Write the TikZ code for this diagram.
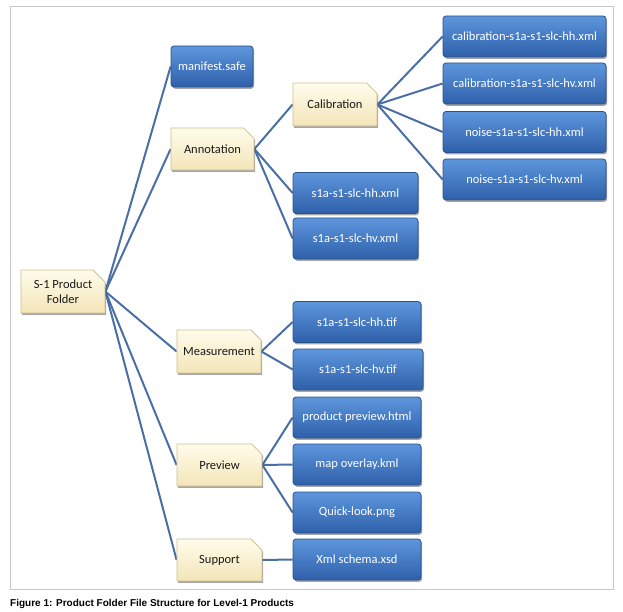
\documentclass[tikz,border=0pt]{standalone}
\usepackage{fontspec}
\setmainfont{Carlito}
\newfontfamily\capfont{Liberation Sans}
\usetikzlibrary{shapes.misc,shadows,backgrounds}
\definecolor{linkc}{HTML}{4A6FA5}
\definecolor{bluetop}{HTML}{5E96DC}
\definecolor{bluebot}{HTML}{2E60AA}
\definecolor{blueborder}{HTML}{2A528E}
\definecolor{creamtop}{HTML}{FFFCEB}
\definecolor{creambot}{HTML}{F3E5B8}
\definecolor{creamborder}{HTML}{CDBE8E}
\definecolor{framec}{HTML}{C8C8C8}
\tikzset{
  filebox/.style={rectangle, rounded corners=3pt, draw=blueborder, line width=0.8pt,
    top color=bluetop, bottom color=bluebot, text=white, minimum height=41pt,
    inner sep=0pt, font=\fontsize{12.5}{14}\selectfont,
    drop shadow={shadow xshift=1.2pt, shadow yshift=-1.8pt, opacity=0.35, fill=black}},
  folderbox/.style={chamfered rectangle, chamfered rectangle corners=north east,
    chamfered rectangle xsep=6pt, chamfered rectangle ysep=6pt,
    draw=creamborder, line width=0.8pt, top color=creamtop, bottom color=creambot,
    text=black!90, minimum height=42pt, inner sep=0pt, align=center,
    font=\fontsize{12.5}{15}\selectfont,
    drop shadow={shadow xshift=1.2pt, shadow yshift=-1.8pt, opacity=0.35, fill=black}},
  link/.style={draw=linkc, line width=2pt}
}
\begin{document}
\begin{tikzpicture}[x=1pt,y=-1pt]
\useasboundingbox (0,0) rectangle (623,612);
\draw[framec, line width=1pt] (10,7) rectangle (613,589);

\node[folderbox, minimum width=84pt, minimum height=43pt] (root) at (63,291.5) {S-1 Product\\Folder};
\node[filebox, minimum width=82pt] (manifest) at (212,66.5) {manifest.safe};
\node[folderbox, minimum width=83pt] (annot) at (212.5,149) {Annotation};
\node[folderbox, minimum width=84pt, minimum height=43pt] (calib) at (335,104.5) {Calibration};
\node[filebox, minimum width=163pt] (calhh) at (524.5,36.5) {calibration-s1a-s1-slc-hh.xml};
\node[filebox, minimum width=163pt] (calhv) at (524.5,83.5) {calibration-s1a-s1-slc-hv.xml};
\node[filebox, minimum width=163pt] (noihh) at (524.5,132) {noise-s1a-s1-slc-hh.xml};
\node[filebox, minimum width=163pt] (noihv) at (524.5,179.5) {noise-s1a-s1-slc-hv.xml};
\node[filebox, minimum width=125pt] (xmlhh) at (355.5,193) {s1a-s1-slc-hh.xml};
\node[filebox, minimum width=125pt] (xmlhv) at (355.5,238.5) {s1a-s1-slc-hv.xml};
\node[folderbox, minimum width=84pt, minimum height=43pt] (meas) at (219,351.5) {Measurement};
\node[filebox, minimum width=128pt] (tifhh) at (357,322) {s1a-s1-slc-hh.tif};
\node[filebox, minimum width=130pt] (tifhv) at (358,369.5) {s1a-s1-slc-hv.tif};
\node[folderbox, minimum width=85pt] (prev) at (219.5,465) {Preview};
\node[filebox, minimum width=128pt] (html) at (357,417.5) {product preview.html};
\node[filebox, minimum width=128pt] (kml) at (357,464.5) {map overlay.kml};
\node[filebox, minimum width=128pt] (png) at (357,512.5) {Quick-look.png};
\node[folderbox, minimum width=85pt] (supp) at (219.5,560) {Support};
\node[filebox, minimum width=128pt] (xsd) at (357,559.5) {Xml schema.xsd};

\begin{scope}[on background layer]
\foreach \c in {manifest,annot,meas,prev,supp} \draw[link] (root.east) -- (\c.west);
\foreach \c in {calib,xmlhh,xmlhv} \draw[link] (annot.east) -- (\c.west);
\foreach \c in {calhh,calhv,noihh,noihv} \draw[link] (calib.east) -- (\c.west);
\foreach \c in {tifhh,tifhv} \draw[link] (meas.east) -- (\c.west);
\foreach \c in {html,kml,png} \draw[link] (prev.east) -- (\c.west);
\draw[link] (supp.east) -- (xsd.west);
\end{scope}

\node[anchor=base west, inner sep=0pt, font=\capfont\bfseries\fontsize{10}{12}\selectfont] (cap) at (10,606) {Figure 1: Product Folder File Structure for Level-1 Products};
\end{tikzpicture}
\end{document}
